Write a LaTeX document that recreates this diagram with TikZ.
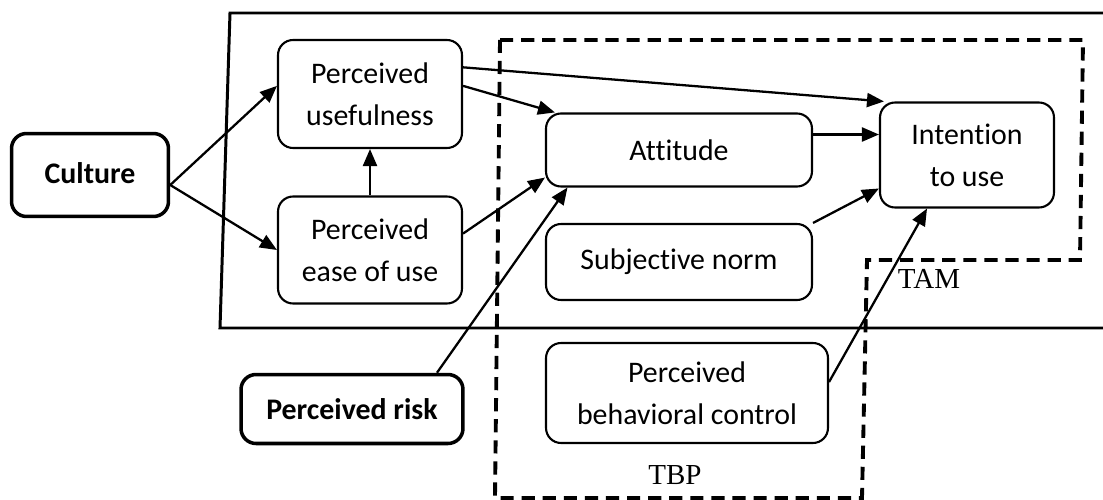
\documentclass[tikz,border=0pt]{standalone}
\usepackage{fontspec}
\setmainfont{Carlito}[Ligatures=NoCommon]
\newfontfamily\modelfont{Liberation Serif}
\usetikzlibrary{arrows.meta}

\begin{document}
\begin{tikzpicture}[x=0.02cm, y=-0.02cm] % 1 unit = 1 px of the scheme
\tikzstyle{mybox} = [draw, rounded corners=0.3cm, line width=1.2pt, align=center, inner sep=2pt, font=\fontsize{17}{24}\selectfont] % ordinary construct
\tikzstyle{mybold} = [mybox, line width=2pt, font=\fontsize{17}{24}\selectfont\bfseries] % external factor
\tikzstyle{myarrow} = [-{Triangle[length=0.34cm, width=0.28cm]}, line width=1.3pt] % influence
\tikzstyle{myframe} = [line width=1.7pt] % solid frame
\tikzstyle{mydash} = [dash pattern=on 7.5pt off 4.5pt, line width=2.2pt] % model borders
\tikzstyle{mymodel} = [font=\modelfont\fontsize{16.5}{19}\selectfont] % model names

\useasboundingbox (0,0) rectangle (1103,500);

% frame and model borders
\draw[myframe] (1103,13) -- (230,13) -- (220,328) -- (1103,328);
\draw[mydash] (500,40) -- (1083,40) -- (1080,260) -- (867,260) -- (862,498) -- (495,498) -- cycle;

% constructs
\node[mybold, minimum width=3.14cm, minimum height=1.66cm] (culture) at (90,175) {\raisebox{2pt}{Culture}};
\node[mybox, minimum width=3.68cm, minimum height=2.16cm] (pu) at (370,94) {Perceived\\usefulness};
\node[mybox, minimum width=3.68cm, minimum height=2.14cm] (peu) at (370,250) {Perceived\\ease of use};
\node[mybox, minimum width=5.32cm, minimum height=1.46cm] (att) at (679,150) {Attitude};
\node[mybox, minimum width=5.32cm, minimum height=1.52cm] (sn) at (679,262) {Subjective norm};
\node[mybox, minimum width=5.64cm, minimum height=2.0cm] (pbc) at (687,393) {Perceived\\behavioral control};
\node[mybox, minimum width=3.48cm, minimum height=2.1cm] (itu) at (967,155) {Intention\\to use};
\node[mybold, minimum width=4.44cm, minimum height=1.38cm] (risk) at (352,409) {Perceived risk};

\node[mymodel] (tam) at (929,279) {TAM};
\node[mymodel] (tbp) at (675,475) {TBP};

% relations
\draw[myarrow] ([yshift=-0.2cm]culture.east) -- (pu.175);
\draw[myarrow] ([yshift=-0.2cm]culture.east) -- (peu.west);
\draw[myarrow] (peu.north) -- (pu.south);
\draw[myarrow] (pu.5) -- ([xshift=0.2cm]att.north west);
\draw[myarrow] (pu.16) -- ([xshift=0.1cm]itu.north west);
\draw[myarrow] (peu.10) -- ([yshift=0.2cm]att.south west);
\draw[myarrow] ([xshift=1.7cm]risk.north) -- ([xshift=0.45cm]att.south west);
\draw[myarrow] ([yshift=0.31cm]att.east) -- ([yshift=0.31cm]att.east -| itu.west);
\draw[myarrow] (sn.north east) -- ([yshift=-0.67cm]itu.west);
\draw[myarrow] ([yshift=0.22cm]pbc.east) -- ([xshift=-0.8cm]itu.south);
\end{tikzpicture}
\end{document}
